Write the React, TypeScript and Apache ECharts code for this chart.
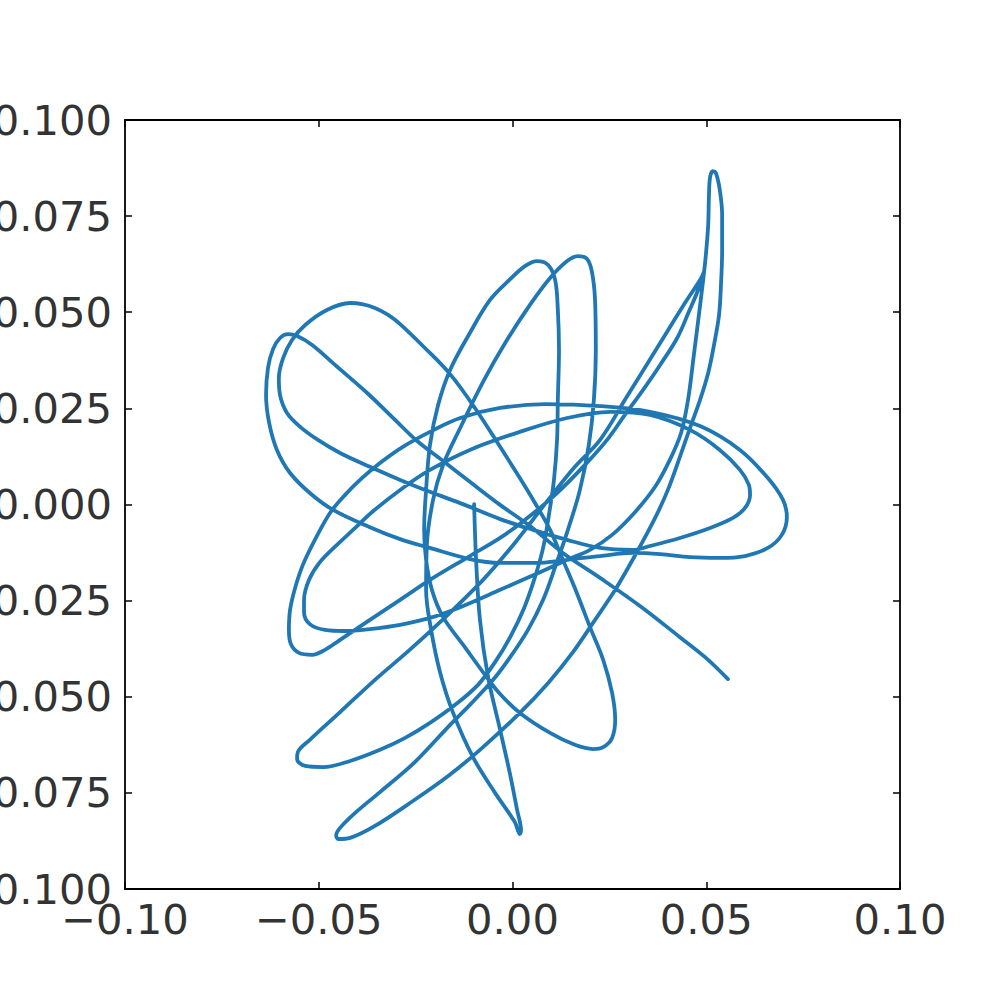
import React, { useEffect, useRef } from "react";
import * as echarts from "echarts";

// Curve, split into consecutive segments (x, y in data units)
const seg1: [number, number][] = [
  [-0.0099, 0.0001], [-0.0094, -0.0144], [-0.0084, -0.03], [-0.0063, -0.0449], [-0.0032, -0.0586],
  [-0.0006, -0.0703], [0.0012, -0.0795], [0.0022, -0.0847],
];
const seg2: [number, number][] = [
  [0.0019, -0.0857], [0.0006, -0.0826], [-0.0045, -0.075], [-0.0102, -0.0657], [-0.0154, -0.054],
  [-0.0187, -0.0436], [-0.021, -0.0326], [-0.0223, -0.0222], [-0.0221, -0.0105], [-0.0205, 0.0012],
  [-0.0179, 0.0103], [-0.0135, 0.0199], [-0.0076, 0.0319], [-0.0019, 0.042], [0.0045, 0.0519],
  [0.0097, 0.0589], [0.0141, 0.0633], [0.0169, 0.0646], [0.0192, 0.0639], [0.0205, 0.0605],
  [0.0213, 0.0532], [0.0215, 0.0402], [0.021, 0.0272], [0.0197, 0.0155], [0.0174, 0.0038],
  [0.0143, -0.0066], [0.0112, -0.0157], [0.0079, -0.0248], [0.004, -0.0326], [-0.0006, -0.0397],
  [-0.005, -0.0456], [-0.011, -0.0521], [-0.0161, -0.0573], [-0.0252, -0.067], [-0.0342, -0.0748],
  [-0.0406, -0.0802], [-0.0445, -0.0841], [-0.0455, -0.086],
];
const seg3: [number, number][] = [
  [-0.045, -0.087], [-0.0419, -0.0867], [-0.0355, -0.0836], [-0.0257, -0.0771], [-0.0166, -0.0706],
  [-0.0084, -0.0638], [0.0019, -0.0542], [0.0092, -0.0464], [0.0156, -0.0384], [0.0213, -0.03],
  [0.0265, -0.0222], [0.0321, -0.0124], [0.0368, -0.0035], [0.0401, 0.0038], [0.0432, 0.0124],
  [0.0458, 0.0199], [0.0484, 0.0272], [0.0505, 0.0342], [0.052, 0.0415], [0.0533, 0.0493],
  [0.0538, 0.0571], [0.0541, 0.0662], [0.0541, 0.0753], [0.0535, 0.0818], [0.0525, 0.0862],
  [0.0517, 0.0867], [0.051, 0.0852], [0.0507, 0.0805], [0.0505, 0.0727], [0.0499, 0.0649],
  [0.0492, 0.0584], [0.0481, 0.0493], [0.0468, 0.0389], [0.0453, 0.0272], [0.0435, 0.0186],
  [0.0406, 0.0116], [0.0368, 0.0046], [0.0316, -0.002], [0.0257, -0.0079], [0.02, -0.0118],
  [0.0141, -0.0144], [0.0071, -0.0176], [-0.0032, -0.0222], [-0.0135, -0.0267], [-0.0213, -0.0295],
  [-0.029, -0.0313], [-0.0368, -0.0324], [-0.0432, -0.0329], [-0.0484, -0.0326], [-0.0523, -0.0311],
  [-0.0538, -0.028],
];
const seg4: [number, number][] = [
  [-0.0538, -0.0248], [-0.0525, -0.0196], [-0.0497, -0.015], [-0.0453, -0.0105], [-0.0406, -0.0061],
  [-0.0363, -0.002], [-0.0283, 0.0043], [-0.0213, 0.009], [-0.011, 0.0142], [0.0019, 0.0189],
  [0.0141, 0.0225], [0.0252, 0.0241], [0.0355, 0.0233], [0.0458, 0.0194], [0.0535, 0.0142],
  [0.0587, 0.009], [0.061, 0.0051], [0.0613, 0.0025], [0.06, -0.0009], [0.0569, -0.0035],
  [0.051, -0.0061], [0.0432, -0.0087], [0.0355, -0.0108], [0.0311, -0.0118], [0.0226, -0.0113],
  [0.0141, -0.0092], [0.0053, -0.0066], [-0.0032, -0.0038], [-0.0123, -0.0001], [-0.0213, 0.0033],
  [-0.029, 0.0064], [-0.0368, 0.0098], [-0.0445, 0.0134], [-0.0502, 0.0168], [-0.0548, 0.0202],
  [-0.0582, 0.0238], [-0.06, 0.0285], [-0.0603, 0.0329], [-0.0592, 0.0381], [-0.0569, 0.0428],
  [-0.0535, 0.0467], [-0.0479, 0.0506], [-0.0419, 0.0524], [-0.0388, 0.0521], [-0.0355, 0.0511],
  [-0.0321, 0.0493], [-0.029, 0.0469],
  [-0.0226, 0.0407], [-0.0161, 0.0339], [-0.0097, 0.0251], [-0.0032, 0.015], [0.0019, 0.0069],
  [0.0058, 0.0004], [0.0097, -0.0066], [0.013, -0.0144], [0.0166, -0.023], [0.02, -0.0319],
  [0.0234, -0.0404], [0.0257, -0.049], [0.0265, -0.056], [0.0257, -0.0607], [0.0234, -0.0631],
  [0.0208, -0.0636], [0.0161, -0.0625], [0.0097, -0.0594], [0.0019, -0.0542], [-0.0032, -0.0493],
  [-0.0071, -0.0443], [-0.0123, -0.0371], [-0.0179, -0.0293], [-0.0208, -0.0222], [-0.0223, -0.0144],
  [-0.0228, -0.0066], [-0.0223, 0.0038], [-0.0213, 0.0155], [-0.0192, 0.0259], [-0.0161, 0.035],
  [-0.011, 0.0446], [-0.0058, 0.0532], [-0.0006, 0.0586], [0.0032, 0.062], [0.0063, 0.0633],
  [0.0092, 0.0623], [0.011, 0.0584], [0.0117, 0.0506], [0.012, 0.0402], [0.0117, 0.0272],
  [0.0115, 0.0168], [0.0107, 0.0064], [0.0094, -0.0027], [0.0079, -0.0113], [0.0058, -0.0189],
  [0.003, -0.0269], [-0.0006, -0.0345], [-0.0045, -0.041], [-0.0089, -0.0469], [-0.0148, -0.0521],
  [-0.0213, -0.0568], [-0.0277, -0.0607], [-0.0342, -0.0638], [-0.0419, -0.0667], [-0.0489, -0.0683],
  [-0.0535, -0.068], [-0.0556, -0.0662],
];
const seg5: [number, number][] = [
  [-0.0554, -0.0644], [-0.0523, -0.0612], [-0.0445, -0.054], [-0.0355, -0.0456], [-0.0272, -0.0384],
  [-0.0187, -0.0306], [-0.0076, -0.0196], [0.0006, -0.01], [0.0092, 0.0012], [0.0161, 0.0098],
  [0.0226, 0.0168], [0.0295, 0.028], [0.0381, 0.042], [0.0445, 0.0524], [0.0484, 0.0584],
  [0.0494, 0.0605], [0.0481, 0.0563], [0.0455, 0.0501], [0.0425, 0.0433], [0.0381, 0.0363],
  [0.0337, 0.0298], [0.029, 0.0233], [0.0244, 0.0168], [0.0187, 0.0103], [0.011, 0.0025],
  [0.0032, -0.004], [-0.0032, -0.0087], [-0.011, -0.0134], [-0.0213, -0.0196], [-0.029, -0.0248],
  [-0.0368, -0.03], [-0.0445, -0.0352], [-0.0484, -0.0378], [-0.0517, -0.0391], [-0.0551, -0.0386],
  [-0.0572, -0.0363], [-0.0577, -0.0326], [-0.0574, -0.0274], [-0.0561, -0.0217], [-0.0541, -0.0157],
  [-0.051, -0.0092],
  [-0.0471, -0.0022], [-0.0432, 0.0025], [-0.0388, 0.0069], [-0.0342, 0.0108], [-0.0283, 0.015],
  [-0.0213, 0.0189], [-0.0135, 0.0225], [-0.0032, 0.0251], [0.0084, 0.0261], [0.0226, 0.0256],
  [0.0355, 0.0241], [0.0484, 0.0204], [0.0587, 0.0142], [0.0659, 0.0069], [0.0698, 0.0012],
  [0.0708, -0.0033], [0.0695, -0.0079], [0.0659, -0.0113], [0.06, -0.0134], [0.0535, -0.0139],
  [0.0458, -0.0137], [0.0381, -0.0129], [0.0311, -0.0126], [0.0226, -0.0134], [0.0141, -0.0144],
  [0.0058, -0.0152], [-0.0032, -0.0152], [-0.011, -0.0142], [-0.0213, -0.0113], [-0.029, -0.009],
  [-0.0368, -0.0059], [-0.0463, -0.0014], [-0.0523, 0.003], [-0.0574, 0.0082], [-0.0608, 0.0142],
  [-0.0628, 0.0212], [-0.0636, 0.0285], [-0.0631, 0.0355], [-0.0618, 0.0404], [-0.06, 0.0433],
  [-0.0579, 0.0443], [-0.0556, 0.0438], [-0.0517, 0.0415], [-0.0458, 0.0363], [-0.0375, 0.029],
  [-0.0303, 0.022], [-0.0246, 0.0165], [-0.0179, 0.0113], [-0.011, 0.0059], [-0.0032, -0.0001],
  [0.0045, -0.0056], [0.013, -0.0126], [0.0226, -0.0191], [0.0329, -0.0264], [0.0432, -0.0345],
  [0.0497, -0.0397], [0.0556, -0.0454],
];

const X_MIN = -0.1;
const X_MAX = 0.1;
const X_STEP = 0.05;
const Y_MIN = -0.1;
const Y_MAX = 0.1;
const Y_STEP = 0.025;

const fmt = (digits: number) => (v: number) => {
  if (Math.abs(v) < 1e-9) return (0).toFixed(digits);
  return (v < 0 ? "\u2212" : "") + Math.abs(v).toFixed(digits);
};

export default function App() {
  const ref = useRef<HTMLDivElement>(null);

  useEffect(() => {
    document.body.style.margin = "0";
    if (!ref.current) return;
    const chart = echarts.init(ref.current, undefined, { renderer: "svg" });
    const data = [...seg1, ...seg2, ...seg3, ...seg4, ...seg5];

    const axisLine = { show: true, onZero: false, lineStyle: { color: "#000", width: 1.8 } };
    const axisTick = { show: true, inside: true, length: 7, lineStyle: { color: "#000", width: 1.5 } };
    const label = {
      fontSize: 41.7,
      color: "#333333",
      fontFamily: "DejaVu Sans",
    };

    chart.setOption({
      animation: false,
      backgroundColor: "#ffffff",
      grid: {
        left: 125, right: 100, top: 120, bottom: 111,
        containLabel: false, outerBoundsMode: "none",
      },
      xAxis: [
        {
          type: "value", position: "bottom", min: X_MIN, max: X_MAX, interval: X_STEP,
          axisLine, axisTick, splitLine: { show: false },
          axisLabel: { ...label, margin: 9, formatter: fmt(2) },
        },
        {
          type: "value", position: "top", min: X_MIN, max: X_MAX, interval: X_STEP,
          axisLine, axisTick, splitLine: { show: false }, axisLabel: { show: false },
        },
      ],
      yAxis: [
        {
          type: "value", position: "left", min: Y_MIN, max: Y_MAX, interval: Y_STEP,
          axisLine, axisTick, splitLine: { show: false },
          axisLabel: { ...label, margin: 13, formatter: fmt(3) },
        },
        {
          type: "value", position: "right", min: Y_MIN, max: Y_MAX, interval: Y_STEP,
          axisLine, axisTick, splitLine: { show: false }, axisLabel: { show: false },
        },
      ],
      series: [
        {
          type: "line",
          data,
          xAxisIndex: 0,
          yAxisIndex: 0,
          showSymbol: false,
          symbol: "none",
          smooth: 0.35,
          lineStyle: { color: "#1f77b4", width: 3.8, cap: "round", join: "round" },
        },
      ],
    });
    return () => chart.dispose();
  }, []);

  return <div ref={ref} style={{ width: 1000, height: 1000 }} />;
}
